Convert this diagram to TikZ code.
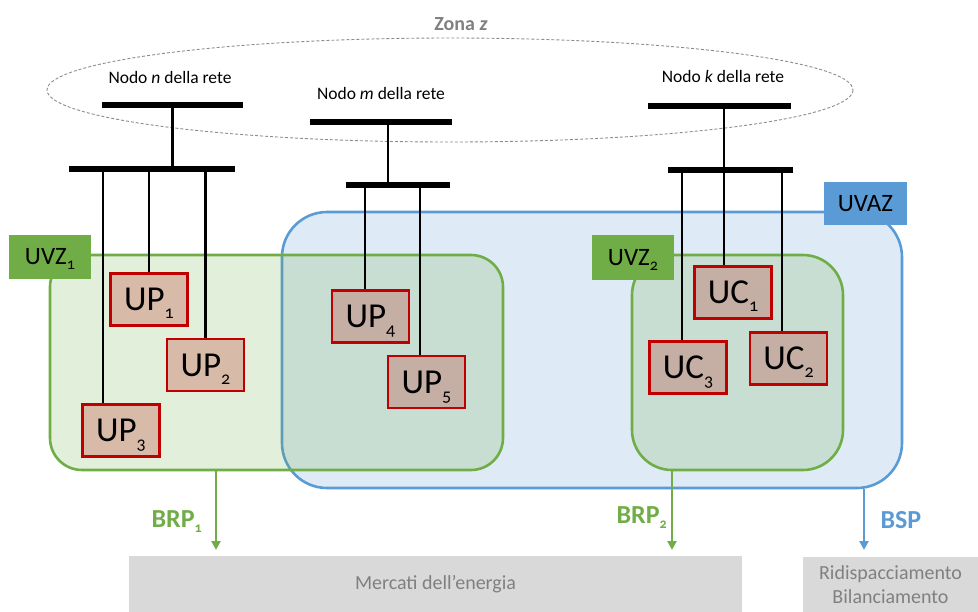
\documentclass[tikz,border=0pt]{standalone}
\usepackage{fontspec}
\setmainfont{Carlito}[Numbers=OldStyle]
\usetikzlibrary{arrows.meta,calc}
\definecolor{cgreen}{HTML}{70AD47}
\definecolor{cblue}{HTML}{5B9BD5}
\definecolor{cred}{HTML}{C00000}
\definecolor{boxa}{HTML}{D8BAA9}
\definecolor{boxb}{HTML}{C5AEA3}
\definecolor{lgray}{HTML}{D9D9D9}
\definecolor{tgray}{HTML}{808080}
\definecolor{egray}{HTML}{8C8C8C}
\newcommand{\fsz}[1]{\fontsize{#1}{#1}\selectfont}
\newcommand{\fszl}[2]{\fontsize{#1}{#2}\selectfont}
\newcommand{\lowsub}[3]{\smash{\raisebox{#1}{\fsz{#2}#3}}}
\pgfdeclarelayer{back}
\pgfdeclarelayer{wirelayer}
\pgfsetlayers{back,wirelayer,main}
\begin{document}
\begin{tikzpicture}[x=1pt,y=-1pt,
  bus/.style={fill=black, inner sep=0pt, minimum height=6pt},
  wire/.style={line width=2.1pt, black},
  unitbox/.style={draw=cred, line width=2.6pt, inner sep=0pt, minimum width=77pt, minimum height=52pt, font=\fsz{35}},
  region/.style={line width=2.6pt, rounded corners=#1, inner sep=0pt},
  tag/.style={inner sep=0pt, font=\fsz{25}},
  nodolabel/.style={anchor=base, font=\fsz{17.5}},
  garrow/.style={draw=cgreen, line width=2.8pt, -{Triangle[width=9pt,length=9pt]}},
  barrow/.style={draw=cblue, line width=2.8pt, -{Triangle[width=9pt,length=9pt]}},
  arrlabel/.style={anchor=base west, font=\bfseries\fsz{26}},
  market/.style={fill=lgray, inner sep=0pt, text=tgray, align=center}
]
\useasboundingbox (0,0) rectangle (978,611);

\begin{pgfonlayer}{back}
% zone
\draw[egray, line width=0.9pt, dash pattern=on 3pt off 2pt] (450,90) ellipse [x radius=403, y radius=52];
% regions
\node[region=45pt, draw=cblue, fill=cblue, fill opacity=0.2, minimum width=620pt, minimum height=276pt] (uvaz) at (592,350) {};
\node[region=32pt, draw=cgreen, fill=cgreen, fill opacity=0.2, minimum width=453pt, minimum height=215pt] (uvz1) at (276.5,362.5) {};
\node[region=40pt, draw=cgreen, fill=cgreen, fill opacity=0.2, minimum width=211pt, minimum height=215pt] (uvz2) at (737.5,362.5) {};
\end{pgfonlayer}

\node[anchor=base, font=\bfseries\fsz{20}, text=tgray] (zona) at (461,30) {Zona \textit{z}};

% node labels
\node[nodolabel] (lblN) at (170,83) {Nodo \textit{n} della rete};
\node[nodolabel] (lblM) at (381,99) {Nodo \textit{m} della rete};
\node[nodolabel] (lblK) at (723,82) {Nodo \textit{k} della rete};

% region tags
\node[tag, fill=cgreen, minimum width=82pt, minimum height=44pt] (tuvz1) at (50,257) {UVZ\lowsub{-5pt}{16}{1}};
\node[tag, fill=cgreen, minimum width=82pt, minimum height=45pt] (tuvz2) at (633,257.5) {UVZ\lowsub{-5pt}{16}{2}};
\node[tag, fill=cblue, minimum width=83pt, minimum height=43pt] (tuvaz) at (865.5,203.5) {UVAZ};

% buses
\node[bus, minimum width=141pt] (bn1) at (172.5,105) {};
\node[bus, minimum width=166pt] (bn2) at (152,169) {};
\node[bus, minimum width=142pt] (bm1) at (381,122) {};
\node[bus, minimum width=104pt] (bm2) at (398,185) {};
\node[bus, minimum width=143pt] (bk1) at (719.5,106) {};
\node[bus, minimum width=125pt] (bk2) at (730.5,170) {};

% units
\node[unitbox, fill=boxa] (up1) at (149,299.5) {UP\lowsub{-8pt}{18}{1}};
\node[unitbox, fill=boxa] (up2) at (205.5,365) {UP\lowsub{-8pt}{18}{2}};
\node[unitbox, fill=boxa] (up3) at (121,430.5) {UP\lowsub{-8pt}{18}{3}};
\node[unitbox, fill=boxb] (up4) at (370.5,316.5) {UP\lowsub{-8pt}{18}{4}};
\node[unitbox, fill=boxb] (up5) at (426.5,382) {UP\lowsub{-8pt}{18}{5}};
\node[unitbox, fill=boxb] (uc1) at (733,292.5) {UC\lowsub{-8pt}{18}{1}};
\node[unitbox, fill=boxb] (uc2) at (788.5,358.5) {UC\lowsub{-8pt}{18}{2}};
\node[unitbox, fill=boxb] (uc3) at (688,367.5) {UC\lowsub{-8pt}{18}{3}};

% wire anchor points
\coordinate (vm) at (388,122);
\coordinate (vk) at (724,106);
\coordinate (d1) at (up1.north);
\coordinate (d2) at (up2.north);
\coordinate (d3) at ($(up3.north)+(-18,0)$);
\coordinate (d4) at ($(up4.north)+(-5.5,0)$);
\coordinate (d5) at ($(up5.north)+(-6.5,0)$);
\coordinate (e1) at ($(uc1.north)+(-9,0)$);
\coordinate (e2) at ($(uc2.north)+(-6.5,0)$);
\coordinate (e3) at ($(uc3.north)+(-6,0)$);

\begin{pgfonlayer}{wirelayer}
\draw[wire] (bn1.center) -- (bn1.center |- bn2.center);
\draw[wire] (vm) -- (vm |- bm2.center);
\draw[wire] (vk) -- (vk |- bk2.center);
\draw[wire] (d1) -- (d1 |- bn2.center);
\draw[wire] (d2) -- (d2 |- bn2.center);
\draw[wire] (d3) -- (d3 |- bn2.center);
\draw[wire] (d4) -- (d4 |- bm2.center);
\draw[wire] (d5) -- (d5 |- bm2.center);
\draw[wire] (e1) -- (e1 |- bk2.center);
\draw[wire] (e2) -- (e2 |- bk2.center);
\draw[wire] (e3) -- (e3 |- bk2.center);
\end{pgfonlayer}

% markets
\node[market, minimum width=613pt, minimum height=56pt, font=\fsz{20}] (mercati) at (435.5,584) {Mercati dell’energia};
\node[market, minimum width=175pt, minimum height=55pt, font=\fszl{20}{24}] (ridisp) at (890.5,584.5) {Ridispacciamento\\Bilanciamento};

% arrows
\coordinate (t1) at (216,550);
\coordinate (t2) at (672,550);
\coordinate (t3) at (864,550);
\draw[garrow] (t1 |- uvz1.south) -- (t1);
\draw[garrow] (t2 |- uvz2.south) -- (t2);
\draw[barrow] (t3 |- uvaz.south) -- (t3);
\node[arrlabel, text=cgreen] (lbrp1) at (148,527) {BRP\lowsub{-5pt}{14}{1}};
\node[arrlabel, text=cgreen] (lbrp2) at (613,523) {BRP\lowsub{-5pt}{14}{2}};
\node[arrlabel, text=cblue] (lbsp) at (877,528) {BSP};
\end{tikzpicture}
\end{document}
